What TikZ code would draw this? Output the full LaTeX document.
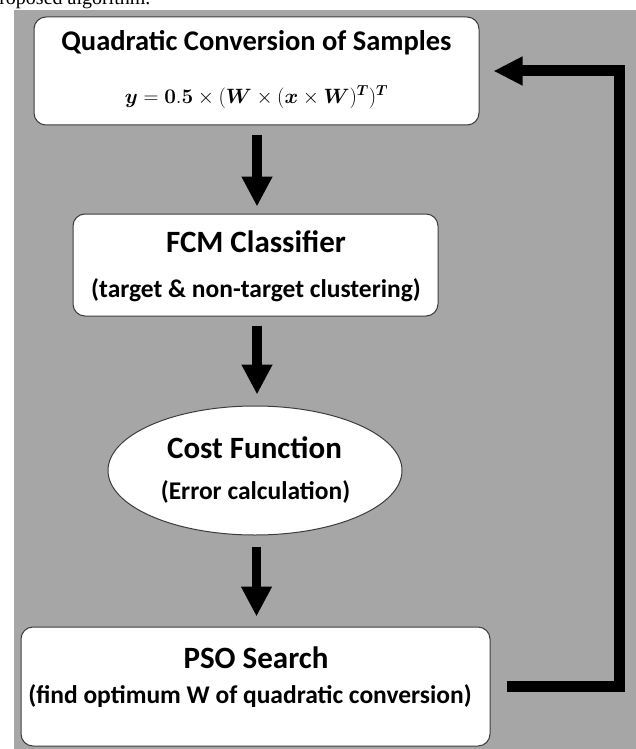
\documentclass[tikz,border=0pt]{standalone}
\usepackage[no-math]{fontspec}
\setmainfont{Carlito}
\newfontfamily\capfont{Liberation Serif}
\usepackage{amsmath,bm}
\usetikzlibrary{arrows.meta,calc,shapes.geometric}
\definecolor{bgray}{RGB}{166,166,166}
\definecolor{edge}{RGB}{60,60,60}
\begin{document}
\begin{tikzpicture}[x=1pt,y=-1pt,
  box/.style={draw=edge, line width=1pt, fill=white, rounded corners=12pt, inner sep=0pt},
  ell/.style={draw=edge, line width=1pt, fill=white, ellipse, inner sep=0pt},
  title/.style={anchor=base, inner sep=0pt, font=\fontsize{31}{36}\selectfont\bfseries},
  sub/.style={anchor=base, inner sep=0pt, font=\fontsize{25.5}{30}\selectfont\bfseries},
  down/.style={line width=9.5pt, -{Triangle[length=30pt,width=29pt]}},
  fb/.style={line width=11pt, line join=miter, -{Triangle[length=29pt,width=27pt]}}]
\useasboundingbox (0,0) rectangle (636,749);
\fill[white] (0,0) rectangle (636,749);
\fill[bgray] (14,10) rectangle (636,749);
\begin{scope}
\clip (0,0) rectangle (636,10);
\node[anchor=base west, inner sep=0pt, font=\capfont\fontsize{20}{24}\selectfont] (cap) at (-12,5) {Proposed algorithm.};
\end{scope}
% boxes
\node[box, minimum width=445pt, minimum height=108pt] (quad) at (256.5,71) {};
\node[box, minimum width=365pt, minimum height=102pt] (fcm) at (255.5,265) {};
\node[ell, minimum width=294pt, minimum height=129pt] (cost) at (255,470.5) {};
\node[box, minimum width=469pt, minimum height=119pt] (pso) at (255.5,686.5) {};
% texts
\node[title, font=\fontsize{28.5}{34}\selectfont\bfseries] (quadT) at (256.5,51) {Quadratic Conversion of Samples};
\node[anchor=base, inner sep=0pt, font=\fontsize{20.5}{24}\selectfont] (quadE) at (256.5,103) {$\bm{y} = \mathbf{0.5} \times (\bm{W} \times (\bm{x} \times \bm{W})^{\bm{T}})^{\bm{T}}$};
\node[title] (fcmT) at (256,252) {FCM Classifier};
\node[sub] (fcmS) at (256,297) {(target \& non-target clustering)};
\node[title] (costT) at (254.5,458) {Cost Function};
\node[sub] (costS) at (255.5,499) {(Error calculation)};
\node[title] (psoT) at (256,668) {PSO Search};
\node[sub] (psoS) at (250,703) {(find optimum W of quadratic conversion)};
% arrows
\draw[down] ($(quad.south)+(0.5,9)$) -- ($(fcm.north)+(1.5,-7)$);
\draw[down] ($(fcm.south)+(1.5,9)$) -- ($(cost.north)+(2,-11)$);
\draw[down] ($(cost.south)+(1.5,11)$) -- ($(pso.north)+(1,-10)$);
\coordinate (fbx) at (619,0);
\draw[fb] ($(pso.east)+(16,0)$) -| (fbx |- quad.east) -- ($(quad.east)+(14,0)$);
\end{tikzpicture}
\end{document}
